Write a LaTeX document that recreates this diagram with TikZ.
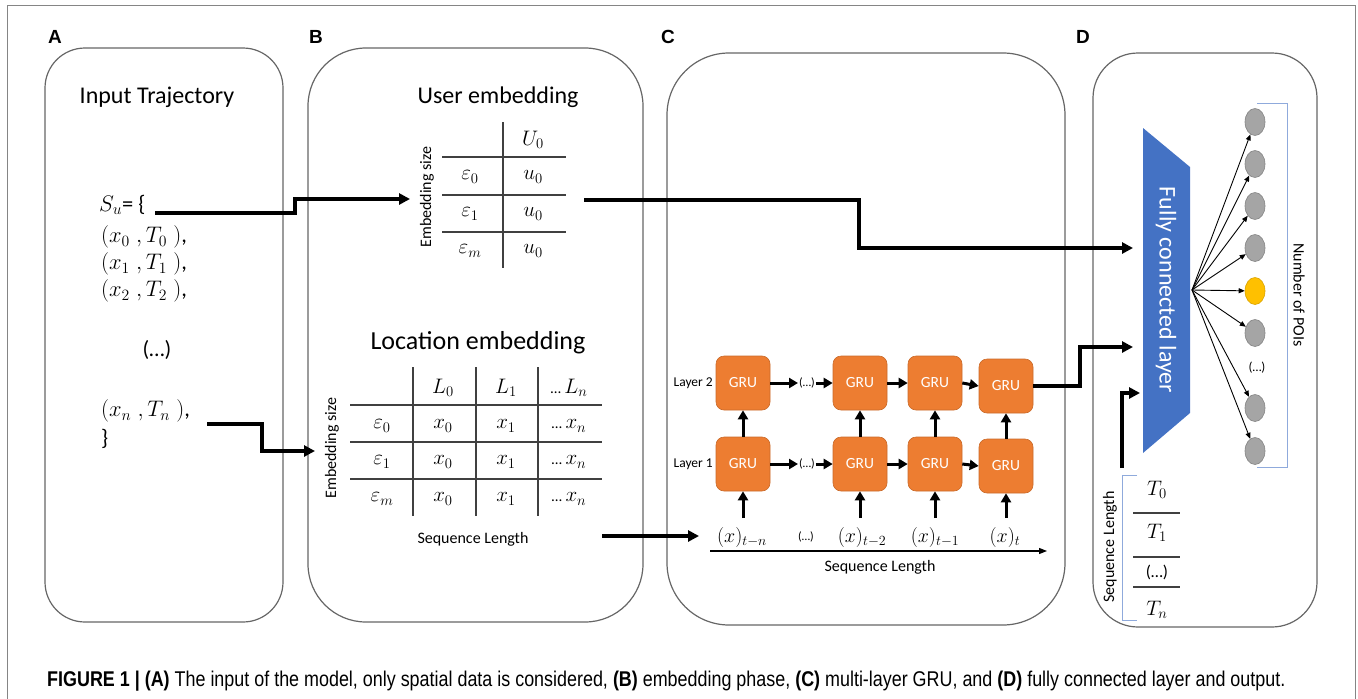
\RequirePackage{fix-cm}
\documentclass[tikz,border=0pt]{standalone}
\usepackage{fontspec}
\setmainfont{Carlito}
\newfontfamily\capfont{Liberation Sans}
\usetikzlibrary{arrows.meta,calc,shapes.geometric}
\definecolor{gruor}{HTML}{ED7D31}
\definecolor{fcblue}{HTML}{4472C4}
\definecolor{poigray}{HTML}{A5A5A5}
\definecolor{poiyel}{HTML}{FFC000}
\definecolor{brblue}{HTML}{8FAADC}
\definecolor{boxgray}{HTML}{666666}
\definecolor{tabgray}{HTML}{404040}
\newcommand{\fsz}[1]{\fontsize{#1}{#1}\selectfont}
\newcommand{\tdots}{{\fsz{15}…}\,}
\begin{document}
\begin{tikzpicture}[x=1pt,y=-1pt,
  panel/.style={draw=boxgray,line width=1.2pt},
  plabel/.style={font=\capfont\bfseries\fsz{19},inner sep=0pt},
  ttl/.style={font=\fsz{24},inner sep=0pt},
  mathA/.style={font=\fsz{22.5},inner sep=0pt,anchor=west},
  tabtxt/.style={font=\fsz{21},inner sep=0pt},
  lbl/.style={font=\fsz{16},inner sep=0pt},
  tabline/.style={draw=tabgray,line width=1.3pt},
  conn/.style={line width=3.5pt,-{Triangle[length=11pt,width=11pt]}},
  gru/.style={draw=gruor!85!black,line width=0.6pt,fill=gruor,rounded corners=8pt,
    minimum width=54pt,minimum height=54pt,text=white,font=\fsz{15.5},inner sep=0pt},
  garr/.style={line width=3pt,-{Triangle[length=9pt,width=10pt]}},
  farr/.style={line width=0.9pt,-{Triangle[length=6pt,width=5pt]}},
  poi/.style={ellipse,draw=poigray!80!black,line width=0.6pt,fill=poigray,
    minimum width=20pt,minimum height=27pt,inner sep=0pt},
  brk/.style={draw=brblue,line width=1pt},
]
\useasboundingbox (0,0) rectangle (1358,699);
% outer frame
\draw[draw=boxgray!80,line width=1pt] (7,699) -- (7,5) -- (1355,5) -- (1355,699);

% panels
\draw[panel,rounded corners=40pt] (45,48) rectangle (283,622);
\draw[panel,rounded corners=58pt] (308,48) rectangle (643,622);
\draw[panel,rounded corners=62pt] (667,53) rectangle (1065,625);
\draw[panel,rounded corners=45pt] (1093,53) rectangle (1317,627);

\node[plabel] (LA) at (55,37) {A};
\node[plabel] (LB) at (316,37) {B};
\node[plabel] (LC) at (668,37) {C};
\node[plabel] (LD) at (1083,37) {D};

% ---------------- Panel A
\node[ttl] (tA) at (157,97) {Input Trajectory};
\node[mathA] (su) at (99,205) {$S_u$= \{};
\node[mathA] (p0) at (101,237) {$(x_0\;, T_0\;)$,};
\node[mathA] (p1) at (101,264) {$(x_1\;, T_1\;)$,};
\node[mathA] (p2) at (101,291) {$(x_2\;, T_2\;)$,};
\node[font=\fsz{22},inner sep=0pt] (pd) at (157,350) {(…)};
\node[mathA] (pn) at (101,411) {$(x_n\;, T_n\;)$,};
\node[mathA] (pb) at (101,439) {\}};

\coordinate (suout) at (155,213);
\coordinate (ueIn) at (410,199);
\coordinate (pnout) at (207,424);
\coordinate (leIn) at (315,451);
\draw[conn] (suout) -- (295,213) -- (295,199) -- (ueIn);
\draw[conn] (pnout) -- (262,424) -- (262,451) -- (leIn);

% ---------------- Panel B : user embedding
\node[ttl] (tU) at (498,97) {User embedding};
\draw[tabline] (503,122) -- (503,268);
\foreach \yy in {157,195,232} \draw[tabline] (442,\yy) -- (566,\yy);
\node[tabtxt] (U0) at (533,140) {$U_0$};
\node[tabtxt] (ue0) at (470,177) {$\varepsilon_0$};
\node[tabtxt] (uu0) at (533,177) {$u_0$};
\node[tabtxt] (ue1) at (470,214) {$\varepsilon_1$};
\node[tabtxt] (uu1) at (533,214) {$u_0$};
\node[tabtxt] (uem) at (470,251) {$\varepsilon_m$};
\node[tabtxt] (uum) at (533,251) {$u_0$};
\node[lbl,rotate=90] (uES) at (427,197) {Embedding size};

\coordinate (ueOut) at (584,200);
\coordinate (fcIn1) at (1133,248);
\draw[conn] (ueOut) -- (859,200) -- (859,248) -- (fcIn1);

% ---------------- Panel B : location embedding
\node[font=\fsz{26},inner sep=0pt] (tL) at (478,343) {Location embedding};
\foreach \xx in {413,476,538} \draw[tabline] (\xx,367) -- (\xx,516);
\foreach \yy in {405,442,479} \draw[tabline] (350,\yy) -- (602,\yy);
\node[tabtxt] (L0) at (443,388) {$L_0$};
\node[tabtxt] (L1) at (506,388) {$L_1$};
\node[tabtxt] (Ln) at (569,388) {\tdots$L_n$};
\foreach \yy/\e/\nm in {426/0/a,462/1/b,499/m/c}{
  \node[tabtxt] (le\nm) at (382,\yy) {$\varepsilon_\e$};
  \node[tabtxt] (lx0\nm) at (443,\yy) {$x_0$};
  \node[tabtxt] (lx1\nm) at (506,\yy) {$x_1$};
  \node[tabtxt] (lxn\nm) at (569,\yy) {\tdots$x_n$};
}
\node[lbl,rotate=90] (lES) at (332,448) {Embedding size};
\node[lbl] (lSL) at (473,539) {Sequence Length};
\coordinate (leOut) at (602,536);
\coordinate (gruIn) at (699,536);
\draw[conn] (leOut) -- (gruIn);

% ---------------- Panel C : GRU
\node[gru] (g21) at (743,383) {GRU};
\node[gru] (g22) at (860,383) {GRU};
\node[gru] (g23) at (935,383) {GRU};
\node[gru] (g24) at (1006,386) {GRU};
\node[gru] (g11) at (743,464) {GRU};
\node[gru] (g12) at (860,464) {GRU};
\node[gru] (g13) at (935,464) {GRU};
\node[gru] (g14) at (1006,466) {GRU};
\node[font=\fsz{13.5},inner sep=0pt,anchor=east] (lay2) at (713,383) {Layer 2};
\node[font=\fsz{13.5},inner sep=0pt,anchor=east] (lay1) at (713,464) {Layer 1};
\node[font=\fsz{12},inner sep=1pt] (d2) at (807,383) {(…)};
\node[font=\fsz{12},inner sep=1pt] (d1) at (807,464) {(…)};
\foreach \r in {1,2}{
  \draw[garr] (g\r1.east) -- (d\r.west);
  \draw[garr] (d\r.east) -- (g\r2.west);
  \draw[garr] (g\r2.east) -- (g\r3.west);
  \draw[garr] (g\r3.east) -- (g\r4.west);
}
\foreach \c in {1,2,3,4} \draw[garr] (g1\c.north) -- (g2\c.south);
\node[font=\fsz{20},inner sep=0pt] (xi1) at (742,537) {$(x)_{t-n}$};
\node[font=\fsz{12},inner sep=0pt] (xid) at (806,537) {(…)};
\node[font=\fsz{20},inner sep=0pt] (xi2) at (862,537) {$(x)_{t-2}$};
\node[font=\fsz{20},inner sep=0pt] (xi3) at (935,537) {$(x)_{t-1}$};
\node[font=\fsz{20},inner sep=0pt] (xi4) at (1005,537) {$(x)_{t}$};
\coordinate (s1) at (743,518);
\coordinate (s2) at (860,518);
\coordinate (s3) at (935,518);
\coordinate (s4) at (1006,518);
\foreach \c in {1,2,3,4} \draw[garr] (s\c) -- (g1\c.south);
\coordinate (axS) at (710,551);
\coordinate (axE) at (1047,551);
\draw[line width=1.2pt,-{Triangle[length=8pt,width=6pt]}] (axS) -- (axE);
\node[lbl] (cSL) at (880,567) {Sequence Length};
\coordinate (fcIn2) at (1133,347);
\draw[conn] (g24.east) -- (1080,386) -- (1080,347) -- (fcIn2);

% ---------------- Panel D
\fill[fcblue] (1143,128) -- (1190,167) -- (1190,413) -- (1143,453) -- cycle;
\node[rotate=-90,text=white,font=\fsz{24},inner sep=0pt] (fc) at (1166,290) {Fully connected layer};
\coordinate (fan) at (1192,290);
\node[poi] (c1) at (1255,122) {};
\node[poi] (c2) at (1255,164) {};
\node[poi] (c3) at (1255,206) {};
\node[poi] (c4) at (1255,248) {};
\node[poi,fill=poiyel,draw=poiyel!85!black] (c5) at (1255,291) {};
\node[poi] (c6) at (1255,333) {};
\node[font=\fsz{13},inner sep=0pt] (cd) at (1257,368) {(…)};
\node[poi] (c7) at (1255,408) {};
\node[poi] (c8) at (1255,451) {};
\foreach \c in {c1,c2,c3,c4,c5,c6,c7,c8} \draw[farr] (fan) -- (\c);
\draw[brk] (1257,103) -- (1287,103) -- (1287,467) -- (1257,467);
\node[lbl,rotate=-90] (npoi) at (1299,295) {Number of POIs};

\draw[brk] (1137,475) -- (1122,475) -- (1122,620) -- (1137,620);
\node[lbl,rotate=90] (dSL) at (1110,547) {Sequence Length};
\node[tabtxt] (T0) at (1157,490) {$T_0$};
\node[tabtxt] (T1) at (1157,533) {$T_1$};
\node[font=\fsz{17},inner sep=0pt] (Td) at (1157,572) {(…)};
\node[tabtxt] (Tn) at (1157,610) {$T_n$};
\foreach \yy in {513,557,587} \draw[tabline] (1133,\yy) -- (1180,\yy);
\coordinate (tOut) at (1122,468);
\coordinate (fcIn3) at (1140,393);
\draw[conn] (tOut) -- (1122,393) -- (fcIn3);

% ---------------- Caption
\node[anchor=west,inner sep=0pt] (cap) at (47,681) {\resizebox{1238pt}{!}{\scalebox{0.84}[1]{\capfont\fsz{18}\textbf{FIGURE 1 | (A)} The input of the model, only spatial data is considered, \textbf{(B)} embedding phase, \textbf{(C)} multi-layer GRU, and \textbf{(D)} fully connected layer and output.}}};
\end{tikzpicture}
\end{document}
